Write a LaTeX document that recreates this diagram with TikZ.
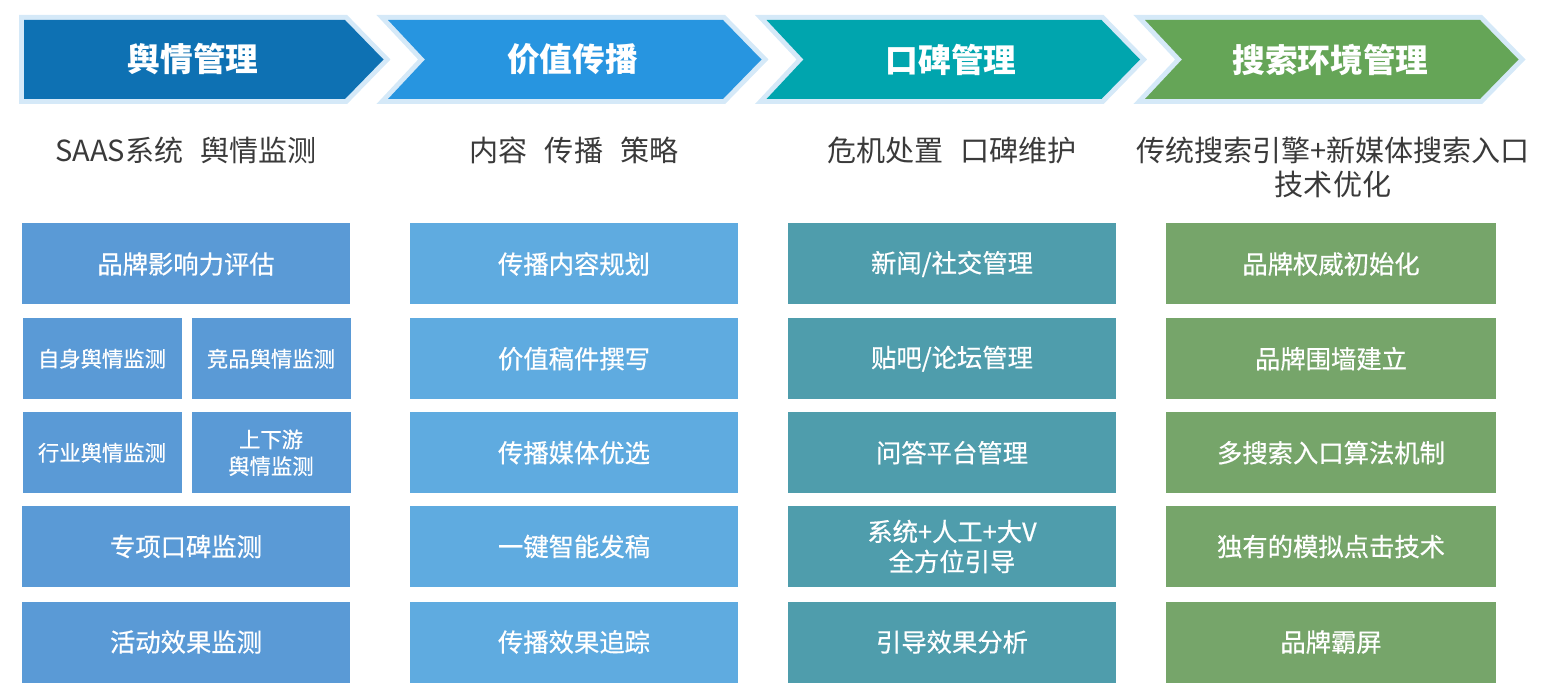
\documentclass[tikz,border=0pt]{standalone}
\usepackage{fontspec}
\setmainfont{Noto Sans CJK SC}
\newfontface\cellface[RawFeature={embolden=0.6}]{Noto Sans CJK SC}

\definecolor{rimblue}{RGB}{213,233,248}
\definecolor{hdrA}{RGB}{14,113,179}
\definecolor{hdrB}{RGB}{39,149,224}
\definecolor{hdrC}{RGB}{0,165,174}
\definecolor{hdrD}{RGB}{101,165,87}
\definecolor{boxA}{RGB}{90,154,214}
\definecolor{boxB}{RGB}{95,171,224}
\definecolor{boxC}{RGB}{79,157,172}
\definecolor{boxD}{RGB}{118,165,106}
\definecolor{subgray}{RGB}{58,58,58}

\tikzset{every picture/.style={line width=0.75pt}}
\tikzset{
  rim/.style={preaction={draw=rimblue,line width=7.5pt,line join=miter}},
  headtext/.style={text=white,inner sep=0.75pt,font=\fontsize{24.5}{29}\selectfont\bfseries},
  subtext/.style={text=subgray,inner sep=0.75pt,align=center,font=\fontsize{21.8}{25.5}\selectfont},
  cell/.style={minimum width=246pt,minimum height=60.75pt,inner sep=0pt,text=white,align=center,font=\cellface\fontsize{19}{22.5}\selectfont},
  halfcell/.style={cell,minimum width=119.25pt,font=\cellface\fontsize{16}{20}\selectfont},
}

\begin{document}
\begin{tikzpicture}[x=0.75pt,y=0.75pt,yscale=-1,xscale=1]
\path[use as bounding box] (0,0) rectangle (1548,698);

%Shape: Chevron 1
\fill[rim,fill=hdrA] (24,20) -- (345,20) -- (383.5,59.5) -- (345,99) -- (24,99) -- cycle ;
%Shape: Chevron 2
\fill[rim,fill=hdrB] (388,20) -- (723,20) -- (761.5,59.5) -- (723,99) -- (388,99) -- (425,59.5) -- cycle ;
%Shape: Chevron 3
\fill[rim,fill=hdrC] (766.5,20) -- (1101.5,20) -- (1140,59.5) -- (1101.5,99) -- (766.5,99) -- (803.5,59.5) -- cycle ;
%Shape: Chevron 4
\fill[rim,fill=hdrD] (1145,20) -- (1480,20) -- (1518.5,59.5) -- (1480,99) -- (1145,99) -- (1182,59.5) -- cycle ;

% Text Node
\node[headtext] (yuqing) at (193,59.5) {舆情管理};
% Text Node
\node[headtext] (jiazhi) at (572.5,59.5) {价值传播};
% Text Node
\node[headtext] (koubei) at (951,59.5) {口碑管理};
% Text Node
\node[headtext] (sousuo) at (1330.5,59.5) {搜索环境管理};

% Text Node
\node[subtext] (subA) at (186,150) {SAAS系统\hspace{0.6em}舆情监测};
% Text Node
\node[subtext] (subB) at (574,150) {内容\hspace{0.6em}传播\hspace{0.6em}策略};
% Text Node
\node[subtext] (subC) at (952,150) {危机处置\hspace{0.6em}口碑维护};
% Text Node
\node[subtext] (subD) at (1333,167) {传统搜索引擎+新媒体搜索入口\\技术优化};

%Column 1
\node[cell,fill=boxA] (a1) at (186,264) {品牌影响力评估};
\node[halfcell,fill=boxA] (a2l) at (102,358.75) {自身舆情监测};
\node[halfcell,fill=boxA] (a2r) at (271,358.75) {竞品舆情监测};
\node[halfcell,fill=boxA] (a3l) at (102,452.75) {行业舆情监测};
\node[halfcell,fill=boxA] (a3r) at (271,452.75) {上下游\\舆情监测};
\node[cell,fill=boxA] (a4) at (186,546.5) {专项口碑监测};
\node[cell,fill=boxA] (a5) at (186,642) {活动效果监测};

%Column 2
\node[cell,fill=boxB] (b1) at (574,264) {传播内容规划};
\node[cell,fill=boxB] (b2) at (574,358.75) {价值稿件撰写};
\node[cell,fill=boxB] (b3) at (574,452.75) {传播媒体优选};
\node[cell,fill=boxB] (b4) at (574,546.5) {一键智能发稿};
\node[cell,fill=boxB] (b5) at (574,642) {传播效果追踪};

%Column 3
\node[cell,fill=boxC] (c1) at (952,264) {新闻/社交管理};
\node[cell,fill=boxC] (c2) at (952,358.75) {贴吧/论坛管理};
\node[cell,fill=boxC] (c3) at (952,452.75) {问答平台管理};
\node[cell,fill=boxC] (c4) at (952,546.5) {系统+人工+大V\\全方位引导};
\node[cell,fill=boxC] (c5) at (952,642) {引导效果分析};

%Column 4
\node[cell,fill=boxD,minimum width=247.5pt] (d1) at (1331,264) {品牌权威初始化};
\node[cell,fill=boxD,minimum width=247.5pt] (d2) at (1331,358.75) {品牌围墙建立};
\node[cell,fill=boxD,minimum width=247.5pt] (d3) at (1331,452.75) {多搜索入口算法机制};
\node[cell,fill=boxD,minimum width=247.5pt] (d4) at (1331,546.5) {独有的模拟点击技术};
\node[cell,fill=boxD,minimum width=247.5pt] (d5) at (1331,642) {品牌霸屏};

\end{tikzpicture}
\end{document}
